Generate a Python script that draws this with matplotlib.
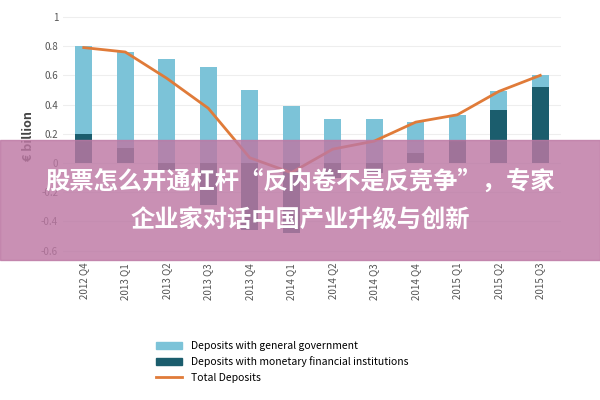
import matplotlib.pyplot as plt
import matplotlib.patches as mpatches
import numpy as np

quarters = ["2012 Q4","2013 Q1","2013 Q2","2013 Q3","2013 Q4","2014 Q1","2014 Q2","2014 Q3","2014 Q4","2015 Q1","2015 Q2","2015 Q3"]
mfi = [0.20,0.10,-0.05,-0.29,-0.46,-0.48,-0.10,-0.07,0.07,0.16,0.36,0.52]
gov_top = [0.80,0.76,0.71,0.655,0.50,0.39,0.30,0.30,0.28,0.33,0.49,0.60]
total = [0.79,0.76,0.58,0.375,0.036,-0.066,0.095,0.15,0.28,0.33,0.49,0.60]
banner = ["股票怎么开通杠杆“反内卷不是反竞争”，专家", "企业家对话中国产业升级与创新"]

plt.rcParams['font.family'] = ['Noto Sans CJK SC', 'DejaVu Sans']
fig = plt.figure(figsize=(6,4), dpi=100)
ax = fig.add_axes([0.105, 0.355, 0.83, 0.61])
x = np.arange(len(quarters))
light, dark = '#7cc3d8', '#1b5d6d'
mfi_pos = [max(v,0) for v in mfi]
gov = [g - p for g, p in zip(gov_top, mfi_pos)]
ax.bar(x, mfi, width=0.4, color=dark, zorder=2)
ax.bar(x, gov, bottom=mfi_pos, width=0.4, color=light, zorder=2)
ax.plot(x, total, color='#e07b39', lw=2, zorder=3)
ax.set_ylim(-0.65, 1.02)
ax.set_xlim(-0.5, len(x)-0.5)
ax.set_yticks([-0.6,-0.4,-0.2,0,0.2,0.4,0.6,0.8,1])
ax.set_yticklabels(['-0.6','-0.4','-0.2','0','0.2','0.4','0.6','0.8','1'], fontsize=7, color='#555')
ax.set_xticks(x)
ax.set_xticklabels(quarters, rotation=90, fontsize=7, color='#555')
ax.grid(axis='y', color='#eee', lw=0.8, zorder=0)
for s in ax.spines.values():
    s.set_visible(False)
ax.tick_params(length=0)
ax.set_ylabel('€ billion', fontsize=9, fontweight='bold', color='#444')
handles = [mpatches.Patch(color=light, label='Deposits with general government'),
           mpatches.Patch(color=dark, label='Deposits with monetary financial institutions'),
           plt.Line2D([], [], color='#e07b39', lw=2, label='Total Deposits')]
fig.legend(handles=handles, loc='lower left', bbox_to_anchor=(0.245, 0.02), frameon=False,
           fontsize=7.5, handlelength=2.5, labelspacing=0.5)
fig.patches.append(mpatches.Rectangle((0, 0.35), 1, 0.3, transform=fig.transFigure,
                                      color='#bd78a4', alpha=0.82, zorder=10))
fig.text(0.5, 0.545, banner[0], ha='center', va='center', color='white', fontsize=17.5, fontweight='bold', zorder=11)
fig.text(0.5, 0.448, banner[1], ha='center', va='center', color='white', fontsize=17.5, fontweight='bold', zorder=11)
fig.savefig('out.png', dpi=100)
